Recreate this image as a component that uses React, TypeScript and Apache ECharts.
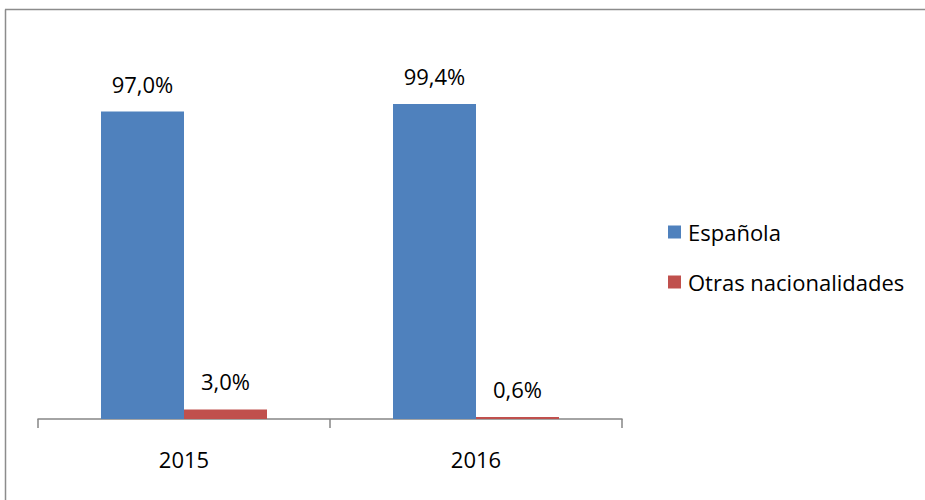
import React, { useEffect, useRef } from "react";
import * as echarts from "echarts";

const categories = ["2015", "2016"];
const seriesNames = ["Española", "Otras nacionalidades"];
const espanola = [97.0, 99.4];
const otras = [3.0, 0.6];
const colors = ["#4F81BD", "#C0504D"];

const FONT = "'Open Sans', 'Liberation Sans', sans-serif";

export default function App() {
  const ref = useRef<HTMLDivElement>(null);
  useEffect(() => {
    if (!ref.current) return;
    const chart = echarts.init(ref.current, null, { renderer: "svg" });
    const fmt = (p: any) => p.value.toFixed(1).replace(".", ",") + "%";
    const labelStyle = {
      show: true,
      position: "top",
      distance: 17,
      formatter: fmt,
      fontFamily: FONT,
      fontSize: 22,
      color: "#000000",
    };
    chart.setOption({
      animation: false,
      backgroundColor: "#ffffff",
      textStyle: { fontFamily: FONT },
      graphic: [
        {
          type: "line",
          shape: { x1: 5, y1: 9.5, x2: 930, y2: 9.5 },
          style: { stroke: "#8c8c8c", lineWidth: 1.5 },
          silent: true,
          z: 100,
        },
        {
          type: "line",
          shape: { x1: 5.5, y1: 9.5, x2: 5.5, y2: 505 },
          style: { stroke: "#8c8c8c", lineWidth: 1.5 },
          silent: true,
          z: 100,
        },
      ],
      grid: { left: 38, right: 303, top: 102, bottom: 81, containLabel: false },
      legend: {
        orient: "vertical",
        left: 663,
        top: 216,
        itemWidth: 13,
        itemHeight: 13,
        itemGap: 28,
        icon: "rect",
        data: seriesNames,
        textStyle: {
          fontFamily: FONT,
          fontSize: 22,
          color: "#000000",
          lineHeight: 22,
          padding: [0, 0, 0, 2],
        },
      },
      xAxis: {
        type: "category",
        data: categories,
        boundaryGap: true,
        axisLine: { lineStyle: { color: "#868686", width: 1.5 } },
        axisTick: { show: true, length: 9, lineStyle: { color: "#868686", width: 1.5 } },
        axisLabel: { fontFamily: FONT, fontSize: 22, color: "#000000", margin: 29 },
      },
      yAxis: {
        type: "value",
        min: 0,
        max: 100,
        show: false,
        splitLine: { show: false },
      },
      series: [
        {
          name: seriesNames[0],
          type: "bar",
          data: espanola,
          barWidth: 83,
          barGap: "0%",
          itemStyle: { color: colors[0] },
          label: labelStyle,
        },
        {
          name: seriesNames[1],
          type: "bar",
          data: otras,
          barWidth: 83,
          barGap: "0%",
          itemStyle: { color: colors[1] },
          label: labelStyle,
        },
      ],
    });
    return () => chart.dispose();
  }, []);
  return (
    <div
      ref={ref}
      style={{ position: "fixed", left: 0, top: 0, width: 925, height: 500 }}
    />
  );
}
